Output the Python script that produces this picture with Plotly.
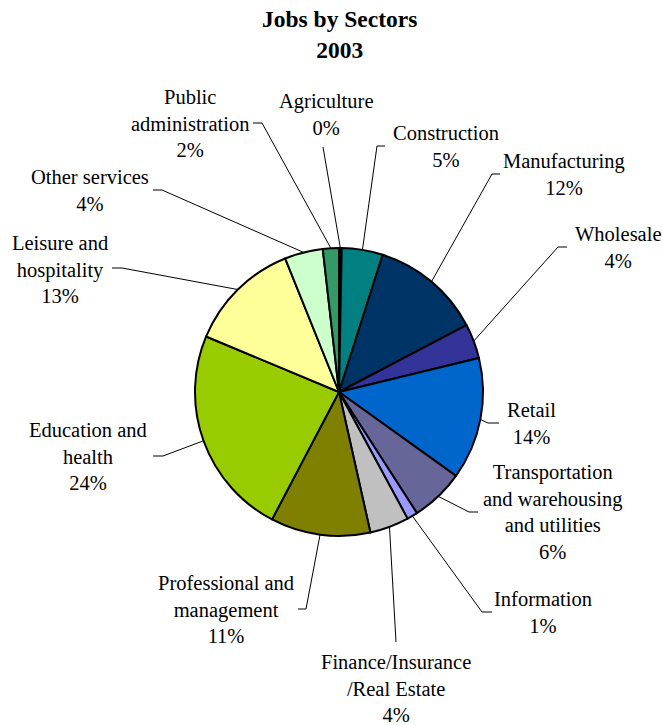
import math
import plotly.graph_objects as go

# ---- data ----
sectors = ["Agriculture", "Construction", "Manufacturing", "Wholesale", "Retail",
           "Transportation<br>and warehousing<br>and utilities", "Information",
           "Finance/Insurance<br>/Real Estate", "Professional and<br>management",
           "Education and<br>health", "Leisure and<br>hospitality", "Other services",
           "Public<br>administration"]
shares = [0.3, 4.6, 12.4, 3.9, 13.7, 6.0, 1.2, 4.4, 11.2, 23.6, 12.6, 4.3, 1.8]
colors = ["#000000", "#008080", "#003366", "#333399", "#0066CC", "#666699", "#9999FF",
          "#C0C0C0", "#808000", "#99CC00", "#FFFF99", "#CCFFCC", "#339966"]

# ---- layout (pixels) ----
W, H = 663, 725
CX, CY, R = 339, 392, 144
# label block centres
label_pos = [(326, 114), (446, 146), (564, 174), (618, 247), (531, 423), (552, 512),
             (543, 612), (396, 688), (226, 609), (88, 456), (60, 269), (90, 190), (190, 124)]
# leader: outer point, elbow point (None -> straight)
leaders = [((323, 147), None), ((385, 146), (377, 146)), ((500, 174), (492, 174)),
           ((567, 247), (558, 247)), ((499, 423), (488, 423)), ((478, 512), (469, 512)),
           ((492, 612), (482, 612)), ((396, 642), None), ((298, 609), (306, 609)),
           ((153, 456), (163, 456)), ((112, 268), (122, 268)), ((153, 190), (162, 190)),
           ((253, 123), (262, 123))]

FONT = "Times New Roman, Liberation Serif, Tinos, DejaVu Serif, serif"


def px(x):
    return x / W


def py(y):
    return 1 - y / H


fig = go.Figure(go.Pie(
    labels=[s.replace("<br>", " ") for s in sectors],
    values=shares,
    sort=False,
    direction="clockwise",
    rotation=0,
    marker=dict(colors=colors, line=dict(color="#000000", width=2)),
    textinfo="none",
    hoverinfo="label+percent",
    showlegend=False,
    domain=dict(x=[px(CX - R), px(CX + R)], y=[py(CY + R), py(CY - R)]),
))

total = sum(shares)
annotations = []
shapes = []
cum = 0.0
for name, v, (lx, ly), (outer, elbow) in zip(sectors, shares, label_pos, leaders):
    mid = (cum + v / 2) / total * 2 * math.pi
    cum += v
    ex = CX + R * math.sin(mid)
    ey = CY - R * math.cos(mid)
    pct = round(v / total * 100)
    annotations.append(dict(
        x=px(lx), y=py(ly), xref="paper", yref="paper", xanchor="center", yanchor="middle",
        text=f"{name}<br>{pct}%", showarrow=False, align="center",
        font=dict(family=FONT, size=20.5, color="#000000")))
    pts = [outer] + ([elbow] if elbow else []) + [(ex, ey)]
    for (x0, y0), (x1, y1) in zip(pts[:-1], pts[1:]):
        shapes.append(dict(type="line", xref="paper", yref="paper",
                           x0=px(x0), y0=py(y0), x1=px(x1), y1=py(y1),
                           line=dict(color="#000000", width=1), layer="above"))

annotations.append(dict(
    x=px(340), y=py(35), xref="paper", yref="paper", xanchor="center", yanchor="middle",
    text="<b>Jobs by Sectors</b><br><b>2003</b>", showarrow=False, align="center",
    font=dict(family=FONT, size=23.5, color="#000000")))

fig.update_layout(
    width=W, height=H,
    margin=dict(l=0, r=0, t=0, b=0),
    paper_bgcolor="#FFFFFF", plot_bgcolor="#FFFFFF",
    font=dict(family=FONT),
    annotations=annotations, shapes=shapes,
)

fig.write_html("out.html", config={"displayModeBar": False},
               post_script="document.body.style.margin='0px';")
